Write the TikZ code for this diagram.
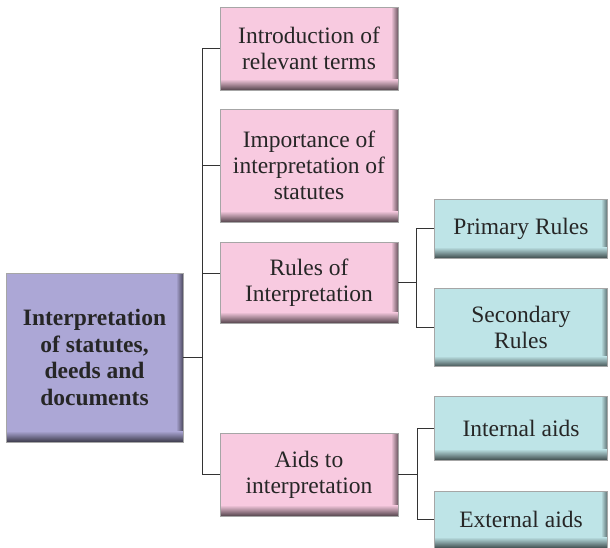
\documentclass[tikz,border=0pt]{standalone}
\usepackage{fontspec}
\setmainfont{Liberation Serif}
\begin{document}
\begin{tikzpicture}[x=1pt,y=-1pt,
  bevel/.style={draw=black!35, line width=0.7pt, fill=#1, align=center, inner sep=0pt,
    text=black!85, font=\fontsize{23.5}{26}\selectfont,
    path picture={
      % darkening band along the right side
      \foreach \k in {1,...,7} {
        \pgfmathtruncatemacro\m{44+8*\k}
        \fill[#1!\m!black]
          ([xshift=-\k pt]path picture bounding box.north east) rectangle
          ([xshift=-\k pt+1pt]path picture bounding box.south east);
      }
      % darkening band along the bottom
      \foreach \k in {1,...,11} {
        \pgfmathtruncatemacro\m{34+6*\k}
        \fill[#1!\m!black]
          ([yshift=\k pt-1pt]path picture bounding box.south west) rectangle
          ([yshift=\k pt]path picture bounding box.south east);
      }
    }},
  pinkbox/.style={bevel=pinkc, minimum width=178pt},
  tealbox/.style={bevel=tealc, minimum width=173pt},
  rootbox/.style={bevel=rootc, minimum width=177pt, font=\fontsize{23.5}{26.5}\selectfont\bfseries},
  link/.style={draw=black!80, line width=0.9pt}]
\definecolor{pinkc}{RGB}{248,202,224}
\definecolor{tealc}{RGB}{190,228,231}
\definecolor{rootc}{RGB}{172,167,214}
\useasboundingbox (0,0) rectangle (610,548);

% root
\node[rootbox, minimum height=169pt] (root) at (94.5,357.5)
  {Interpretation\\of statutes,\\deeds and\\documents};

% first level
\node[pinkbox, minimum height=83pt] (b1) at (309,48.5) {Introduction of\\relevant terms};
\node[pinkbox, minimum height=113pt] (b2) at (309,165.5) {Importance of\\interpretation of\\statutes};
\node[pinkbox, minimum height=81pt] (b3) at (309,282.5) {Rules of\\Interpretation};
\node[pinkbox, minimum height=83pt] (b4) at (309,474.5) {Aids to\\interpretation};

% second level
\node[tealbox, minimum height=59pt] (p) at (521,228.5) {Primary Rules};
\node[tealbox, minimum height=78pt] (s) at (521,327.5) {Secondary\\Rules};
\node[tealbox, minimum height=64pt] (ia) at (521,428) {Internal aids};
\node[tealbox, minimum height=57pt] (ea) at (521,519.5) {External aids};

% trunk from the root
\coordinate (tr) at (202,357.5);
\draw[link] (root.east) -- (tr);
\draw[link] (b1.west) -- (b1.west -| tr) -- (b4.west -| tr) -- (b4.west);
\draw[link] (b2.west -| tr) -- (b2.west);
\draw[link] ([yshift=9pt]b3.west -| tr) -- ([yshift=9pt]b3.west);

% rules branch
\coordinate (tr2) at (416,282.5);
\draw[link] (b3.east) -- (tr2);
\draw[link] (p.west) -- (p.west -| tr2) -- (s.west -| tr2) -- (s.west);

% aids branch
\coordinate (tr3) at (417,474.5);
\draw[link] (b4.east) -- (tr3);
\draw[link] (ia.west) -- (ia.west -| tr3) -- (ea.west -| tr3) -- (ea.west);
\end{tikzpicture}
\end{document}
